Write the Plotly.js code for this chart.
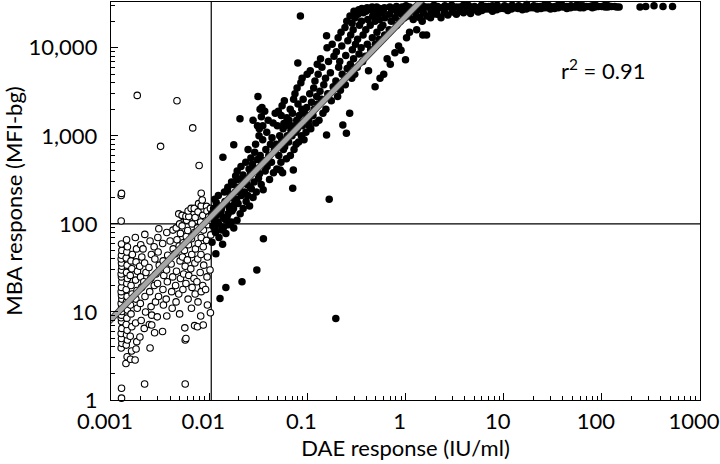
<!DOCTYPE html>
<html>
<head>
<meta charset="utf-8">
<script src="https://cdn.plot.ly/plotly-3.0.1.min.js"></script>
<style>
  html, body { margin: 0; padding: 0; background: #fff; }
  #chart { width: 720px; height: 464px; }
</style>
</head>
<body>
<div id="chart"></div>
<script>
// DAE (x) vs MBA (y) pairs
// open circles: below the DAE cutoff
const openPts = [
  [0.00128,1.05],[0.00128,1.36],[0.00127,3.9],[0.00129,4.4],[0.00128,5.0],[0.00127,5.7],[0.00129,6.5],[0.00128,7.8],
  [0.00127,8.6],[0.00128,9.2],[0.00129,10.1],[0.00128,11],[0.00127,12.5],[0.00129,14],[0.00128,15.5],[0.00127,17],
  [0.00128,19],[0.00129,22],[0.00128,25],[0.00127,27],[0.00128,30],[0.00129,33],[0.00128,36],[0.00127,40],
  [0.00128,44],[0.00129,50],[0.00128,59],[0.00127,108],[0.00127,210],[0.00128,222],[0.00098,16.5],
  [0.00142,2.6],[0.00146,3.1],[0.00143,4.2],[0.00147,4.8],[0.00144,5.5],[0.00146,6.2],[0.00143,7.2],[0.00145,8.5],
  [0.00147,10.5],[0.00144,13],[0.00146,15],[0.00143,18],[0.00145,21],[0.00147,24],[0.00144,28],[0.00146,34],
  [0.00143,41],[0.00145,48],[0.00147,55],[0.00144,66],
  [0.00158,2.9],[0.00162,3.6],[0.00157,5.3],[0.00163,6.8],[0.0016,9.5],[0.00158,12],[0.00164,16],[0.0016,20],
  [0.00157,26],[0.00163,31],[0.0016,38],[0.00165,45],
  [0.00176,2.85],[0.0018,3.8],[0.00183,4.6],[0.00178,7.5],[0.00185,11],[0.00179,14],[0.00184,17.5],[0.00178,23],
  [0.00186,29],[0.0018,37],[0.00182,52],[0.00177,70],
  [0.00197,5.2],[0.00203,8],[0.00199,12.5],[0.00205,19],[0.002,25],[0.00196,33],[0.00206,42],[0.00201,58],
  [0.0022,1.52],[0.00218,6.5],[0.00225,10],[0.00222,15],[0.00216,22],[0.00227,28],[0.0022,36],[0.00221,76],[0.00212,52],
  [0.0025,3.9],[0.00246,7.2],[0.00256,11.5],[0.00248,17],[0.00254,24],[0.00244,32],[0.00258,45],[0.0025,64],
  [0.0026,9.2],[0.0026,7.1],[0.00278,5.8],[0.00284,13],[0.00276,20],[0.00287,27],[0.0028,40],[0.00275,55],
  [0.003,70],[0.00296,8.8],[0.00305,15],[0.00298,21],[0.0031,34],[0.00302,48],[0.00307,88],
  [0.00335,6],[0.00342,12],[0.00338,18],[0.00345,26],[0.0034,38],[0.00336,60],
  [0.0037,9.0],[0.00365,14],[0.00375,22],[0.00368,30],[0.00378,44],[0.0037,80],
  [0.0042,11],[0.00415,17],[0.00425,25],[0.0041,35],[0.0043,52],[0.004,64],[0.00428,85],
  [0.0046,13],[0.00455,20],[0.00465,29],[0.0045,46],[0.0047,66],[0.00462,90],
  [0.005,9.5],[0.0049,16],[0.0051,24],[0.00505,38],[0.00495,56],[0.0051,78],[0.005,100],[0.0049,130],
  [0.0054,18],[0.0055,27],[0.00535,42],[0.00545,61],[0.0053,95],[0.0054,121],[0.0053,125],
  [0.0057,1.52],[0.0057,4.8],[0.0058,5.0],[0.00565,6.6],[0.0058,21],[0.0057,33],[0.0056,50],[0.00585,72],
  [0.0059,110],[0.0058,122],
  [0.0061,14],[0.0062,26],[0.006,39],[0.00615,58],[0.00605,84],[0.0062,121],[0.0061,140],
  [0.0066,11],[0.0067,19],[0.0065,31],[0.00665,45],[0.0066,68],[0.0067,100],[0.00655,150],
  [0.0071,7.0],[0.0072,16],[0.007,24],[0.00715,36],[0.00725,52],[0.0071,80],[0.0072,118],[0.00705,150],
  [0.0076,6.8],[0.0077,13],[0.0075,22],[0.00765,40],[0.00775,60],[0.0076,90],[0.0077,137],[0.0078,170],
  [0.0082,9],[0.0083,17],[0.0081,28],[0.00825,45],[0.0083,70],[0.0082,105],[0.0083,160],[0.0083,223],
  [0.0087,7.1],[0.0086,20],[0.0088,34],[0.0087,55],[0.00875,85],[0.0086,125],[0.0085,187],
  [0.0094,158],[0.0095,25],[0.0096,42],[0.0094,65],[0.0097,98],[0.0095,140],[0.0096,12],[0.0092,18],
  [0.0103,9.8],[0.0102,30],[0.0104,75],[0.0101,110],[0.0103,150],[0.0099,120],
  [0.00185,2880],[0.0047,2500],[0.0032,760],[0.0068,1230],[0.0079,460]
];

// filled circles: above the DAE cutoff
const filledPts = [
  [0.0107,62],[0.0116,80],[0.0109,95],[0.0113,110],[0.0106,130],[0.0111,150],[0.0118,175],
  [0.0117,45.7],[0.0126,70],[0.0115,88],[0.0123,105],[0.0119,125],[0.0128,140],[0.0114,190],
  [0.0129,14.2],[0.0137,58.8],[0.0134,85],[0.0125,100],[0.0139,118],[0.0131,135],[0.0136,160],[0.0124,210],
  [0.0148,78],[0.0141,92],[0.0146,112],[0.0133,145],[0.015,170],[0.0143,230],[0.0138,573],
  [0.0148,18.9],[0.0158,98],[0.0152,120],[0.0161,150],[0.0145,180],[0.0155,260],[0.0163,200],
  [0.0168,105],[0.0156,130],[0.0172,160],[0.0165,200],[0.0153,240],[0.0169,300],
  [0.0178,90],[0.0171,140],[0.0183,175],[0.0166,215],[0.0176,280],[0.0186,350],
  [0.0192,110],[0.0177,150],[0.019,190],[0.0185,230],[0.0195,320],[0.0178,790],
  [0.0207,130],[0.0197,170],[0.0213,210],[0.02,260],[0.0218,330],[0.0193,400],
  [0.0216,22],[0.0206,1560],[0.0222,150],[0.0204,240],[0.0226,300],[0.0211,450],
  [0.0238,180],[0.0229,230],[0.0244,280],[0.0221,360],[0.0236,500],
  [0.0258,160],[0.0247,210],[0.0262,260],[0.0241,330],[0.0255,420],[0.0266,560],[0.0249,700],
  [0.028,200],[0.0269,250],[0.0287,300],[0.0264,380],[0.0277,480],[0.0291,650],[0.028,1500],
  [0.0306,30],[0.0314,2800],[0.0302,230],[0.0318,330],[0.0294,420],[0.0311,540],[0.0297,800],[0.031,1300],[0.0322,1000],
  [0.0339,280],[0.0326,370],[0.0346,480],[0.0331,600],[0.0351,900],[0.0324,1200],[0.034,1650],[0.033,2000],
  [0.0357,67.6],[0.0355,245],[0.0372,400],[0.0361,520],[0.0378,700],[0.0352,1300],[0.0368,1900],[0.0345,2100],
  [0.0412,320],[0.0389,450],[0.0405,600],[0.0421,800],[0.0386,1100],[0.0399,1500],
  [0.0452,380],[0.0431,500],[0.0462,700],[0.0437,950],[0.0448,1400],[0.0471,1800],
  [0.0489,420],[0.0512,600],[0.0481,800],[0.0523,1000],[0.0495,1300],[0.0507,1900],
  [0.053,410],[0.056,380],[0.0538,500],[0.0571,700],[0.0548,900],[0.0566,1200],[0.0577,1380],[0.0542,1700],[0.0553,2200],
  [0.0612,550],[0.0588,750],[0.0625,1000],[0.0597,1300],[0.0618,1600],[0.0583,2500],
  [0.066,1330],[0.0672,600],[0.0645,850],[0.0681,1150],[0.0651,1500],[0.0669,2000],
  [0.071,254],[0.072,410],[0.0732,700],[0.0698,1000],[0.0741,1300],[0.0706,1800],[0.0725,2600],
  [0.0768,800],[0.0759,1100],[0.0779,1500],[0.0748,3000],
  [0.08,6700],[0.0815,850],[0.0792,1200],[0.0828,1700],[0.0803,2300],[0.0786,3500],
  [0.085,23000],[0.0869,1000],[0.0842,1400],[0.0878,2000],[0.0859,4000],
  [0.0925,900],[0.0889,1300],[0.0936,1800],[0.0907,2600],[0.0884,4500],
  [0.0968,1100],[0.1035,1500],[0.0985,2100],[0.1058,3000],[0.0995,5000],[0.104,1300],
  [0.1085,1200],[0.1142,1700],[0.1103,2400],[0.1161,3500],[0.1071,5500],
  [0.1218,1400],[0.1175,2000],[0.1245,2800],[0.1196,4200],[0.1262,6500],
  [0.1315,1500],[0.1278,2300],[0.1346,3200],[0.1289,5000],[0.1362,7500],
  [0.1442,1800],[0.1395,2600],[0.1471,3800],[0.1408,6000],
  [0.157,13700],[0.157,1020],[0.1545,2000],[0.1615,3000],[0.1532,4500],[0.1642,7000],[0.1588,10000],
  [0.167,190],[0.195,8.4],
  [0.1755,2500],[0.1832,3600],[0.1718,5200],[0.1868,8000],[0.1791,11000],
  [0.2035,2800],[0.1952,4200],[0.2086,6000],[0.1975,9000],[0.2061,13000],
  [0.23,1330],[0.25,1070],[0.27,1800],
  [0.2172,3300],[0.2265,5000],[0.2138,7000],[0.2241,10500],[0.2205,15000],
  [0.2435,3800],[0.2548,5800],[0.2462,8200],[0.2585,12000],[0.2418,17000],[0.2522,20000],
  [0.2835,4500],[0.2742,6500],[0.2876,9500],[0.2765,14000],[0.2858,19000],[0.2721,23000],
  [0.3042,5000],[0.2958,7500],[0.3095,11000],[0.2931,16000],[0.3068,22000],[0.2985,26000],
  [0.3225,6000],[0.3361,8500],[0.3248,12500],[0.3395,18000],[0.3272,24000],[0.3342,27000],
  [0.3662,7000],[0.3535,10000],[0.3698,14000],[0.3561,20000],[0.3721,25000],[0.3592,28000],
  [0.3905,8000],[0.4082,11000],[0.3938,16000],[0.4125,21000],[0.3962,26000],[0.4061,28500],
  [0.42,5500],[0.49,3600],[0.55,4500],[0.6,5000],[0.65,7500],[0.7,6500],[0.78,8800],[0.85,10500],
  [0.4415,9500],[0.4592,13000],[0.4368,18000],[0.4631,23000],[0.4445,27000],[0.4568,29000],
  [0.4925,11000],[0.5118,15000],[0.4886,20000],[0.5142,24000],[0.4962,27000],[0.5085,29000],
  [0.5382,12500],[0.5615,17000],[0.5428,21000],[0.5652,25000],[0.5471,28000],
  [0.6135,14000],[0.5881,18000],[0.6182,22000],[0.5925,26000],[0.6095,28500],
  [0.6825,16000],[0.7162,20000],[0.6878,24000],[0.7215,27000],[0.6931,29000],
  [0.8145,18000],[0.7852,22000],[0.8218,25000],[0.7905,28000],[0.8082,29500],
  [0.9,9400],[0.8825,20000],[0.9182,24000],[0.8868,27000],[0.9235,29000],
  [1.0,7300],[1.025,13000],[0.975,22000],[1.038,25000],[0.982,28000],[1.012,30000]
];

// saturated plateau, x above ~1 IU/ml
const plateauPts = [
  [1.1,15000],[1.08,23000],[1.12,26000],[1.1,29000],[1.2,21000],[1.2,28000],
  [1.3,16000],[1.28,24000],[1.32,27000],[1.3,29500],[1.4,22000],[1.4,30500],
  [1.5,14000],[1.48,20000],[1.52,25000],[1.5,28000],[1.49,30000],[1.64,14000],[1.65,23000],[1.65,29000],
  [1.8,22000],[1.82,26000],[1.78,29000],[1.9,24000],[1.95,30500],
  [2.1,24000],[2.08,27000],[2.12,29500],[2.3,22000],[2.3,28500],
  [2.5,25000],[2.48,28000],[2.52,30000],[2.7,23500],[2.7,29000],
  [3,25500],[3.05,28000],[2.95,30500],[3.3,24000],[3.3,29000],
  [3.6,26000],[3.58,29000],[3.9,25000],[3.9,30500],
  [4.3,26500],[4.25,28500],[4.35,30500],[4.6,24500],[4.6,29000],
  [5,27000],[5.05,29500],[5.5,25500],[5.5,28500],
  [6,26500],[6.05,28500],[5.95,30500],[6.5,27500],[6.5,29500],
  [7,27500],[7.05,29500],[7.7,26000],[7.7,30000],
  [8.5,27000],[8.4,29000],[8.6,30500],[9.2,28000],
  [10,28000],[10.2,30000],[11,26500],[11,29000],
  [12,27500],[11.8,29000],[12.2,30500],[13,28500],
  [14,28000],[14.2,30000],[15.5,27000],[15.5,29000],
  [17,27500],[16.8,29500],[17.2,31000],[18.5,28500],
  [20,28500],[20.3,30000],[22,27500],[22,29500],
  [24,28000],[23.7,29500],[26,28500],[26,30500],
  [28,28500],[28.4,30500],[30,27500],[30,29500],
  [33,28000],[33.4,29500],[36,28500],[36,30500],
  [40,29000],[39.5,30500],[44,28000],[44,29500],
  [48,28500],[48.5,30000],[52,29000],
  [55,29000],[55.5,30500],[60,28500],[60,30000],
  [65,28500],[64,30000],[70,29500],
  [75,29500],[80,28500],[80,30000],
  [85,29000],[86,30500],[92,29500],
  [100,29500],[108,29000],[108,30500],
  [115,29000],[116,30000],[125,29500],
  [135,29500],[142,29000],[150,29000],
  [245,29000],[280,29500],[340,30000],[420,29500],[525,29500]
];

// regression line end points and cut-offs
const fitX = [0.0009, 1.6];
const fitY = [7.3, 38500];
const daeCut = 0.0105;
const mbaCut = 100;

const xTicks = [0.001, 0.01, 0.1, 1, 10, 100, 1000];
const xLabels = ["0.001", "0.01", "0.1", "1", "10", "100", "1000"];
const yTicks = [1, 10, 100, 1000, 10000];
const yLabels = ["1", "10", "100", "1,000", "10,000"];

const minorVals = (lo, hi) => {
    const out = [];
    for (let d = lo; d < hi; d *= 10) {
        for (let k = 2; k <= 9; k++) out.push(d * k);
    }
    return out;
}

const font = "Lato, 'Open Sans', sans-serif";

const cutLines = [
    { x: [daeCut, daeCut], y: [1, 40000], mode: "lines", line: { color: "#000", width: 1.2 } },
    { x: [0.001, 1000], y: [mbaCut, mbaCut], mode: "lines", line: { color: "#000", width: 1.2 } }
];

const openTrace = {
    x: openPts.map(p => p[0]),
    y: openPts.map(p => p[1]),
    mode: "markers",
    cliponaxis: false,
    marker: { symbol: "circle", size: 6.5, color: "#fff", line: { color: "#000", width: 1.1 } }
};

const filledTrace = {
    x: filledPts.concat(plateauPts).map(p => p[0]),
    y: filledPts.concat(plateauPts).map(p => p[1]),
    mode: "markers",
    cliponaxis: false,
    marker: { symbol: "circle", size: 7.5, color: "#000", line: { width: 0 } }
};

const fitEdge = { x: fitX, y: fitY, mode: "lines", line: { color: "#333", width: 6.5 } };
const fitLine = { x: fitX, y: fitY, mode: "lines", line: { color: "#a6a6a6", width: 4.8 } };

const axisBase = {
    type: "log",
    showline: true,
    linecolor: "#000",
    linewidth: 1.2,
    mirror: true,
    showgrid: false,
    zeroline: false,
    ticks: "inside",
    ticklen: 7,
    tickwidth: 1,
    tickcolor: "#000",
    ticklabeloverflow: "allow",
    tickfont: { family: font, size: 22, color: "#000" }
};

const layout = {
    width: 720,
    height: 464,
    margin: { l: 111, r: 20, t: 2, b: 64 },
    paper_bgcolor: "#fff",
    plot_bgcolor: "#fff",
    showlegend: false,
    font: { family: font, color: "#000" },
    xaxis: Object.assign({}, axisBase, {
        range: [-3, 3],
        tickmode: "array",
        tickvals: xTicks,
        ticktext: xLabels,
        ticklabelstandoff: 1,
        ticklabelshift: -6,
        minor: { ticks: "inside", ticklen: 4, tickcolor: "#000", tickmode: "array", tickvals: minorVals(0.001, 1000) },
        title: { text: "DAE response (IU/ml)", font: { family: font, size: 22 }, standoff: 0 }
    }),
    yaxis: Object.assign({}, axisBase, {
        range: [0, 4.52],
        tickmode: "array",
        tickvals: yTicks,
        ticktext: yLabels,
        ticklabelstandoff: 8,
        minor: { ticks: "inside", ticklen: 4, tickcolor: "#000", tickmode: "array", tickvals: minorVals(1, 10000).concat([20000, 30000]) },
        title: { text: "MBA response (MFI-bg)", font: { family: font, size: 22 }, standoff: 10 }
    }),
    annotations: [{
        xref: "paper", yref: "paper",
        x: 0.76, y: 0.83,
        xanchor: "left", yanchor: "middle",
        text: "r<sup>2</sup> = 0.91",
        showarrow: false,
        font: { family: font, size: 22, color: "#000" }
    }]
};

Plotly.newPlot("chart", [...cutLines, openTrace, filledTrace, fitEdge, fitLine], layout, { displayModeBar: false, staticPlot: true });
</script>
</body>
</html>
